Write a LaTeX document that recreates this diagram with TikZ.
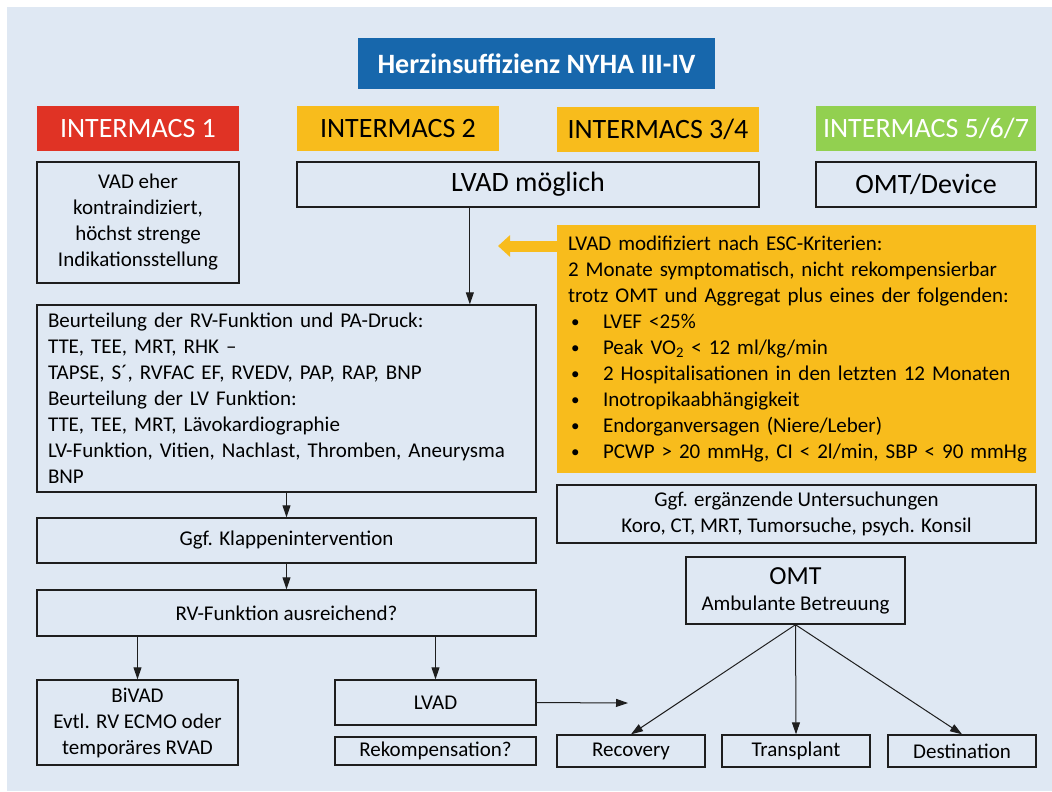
\documentclass[tikz,border=0pt]{standalone}
\usepackage{fontspec}
\setmainfont{Carlito}
\usepackage{tikz}
\usetikzlibrary{arrows.meta, calc}
\definecolor{Ink}{HTML}{1E1E1E}
\definecolor{Paper}{HTML}{DFE8F3}
\definecolor{Blue}{HTML}{1767AC}
\definecolor{Red}{HTML}{E03325}
\definecolor{Amber}{HTML}{F8BC1C}
\definecolor{Green}{HTML}{92D050}
\newcommand{\critem}{\makebox[17.5pt][l]{\hspace{1.5pt}\raisebox{0.6pt}{\fontsize{8.5}{9}\selectfont\textbullet}}}

\begin{document}
\begin{tikzpicture}[
  x=0.5pt, y=-0.5pt,
  font=\fontsize{10.5}{13}\selectfont,
  box/.style={draw=Ink, line width=0.7pt, align=center, inner sep=0pt},
  tag/.style={inner sep=0pt, minimum width=101pt, minimum height=22.5pt, font=\fontsize{14}{17}\selectfont},
  big/.style={font=\fontsize{14}{17}\selectfont},
  note/.style={box, align=left, inner xsep=5.5pt, inner ysep=0pt},
  arrow/.style={-{Triangle[length=6pt, width=4pt]}, line width=0.5pt, draw=Ink},
  bigarrow/.style={-{Triangle[length=6pt, width=10.5pt]}, line width=5.5pt, draw=Amber}
]
\useasboundingbox (0,0) rectangle (1052,791);
\fill[Paper] (7,7) rectangle (1052,791);

\node[fill=Blue, text=white, inner sep=0pt, minimum width=178.5pt, minimum height=25.5pt,
  font=\fontsize{14}{17}\selectfont\bfseries] (title) at (536.5,63.5) {Herzinsuffizienz NYHA III-IV};

\node[tag, fill=Red, text=white] (im1) at (138,128.5) {INTERMACS 1};
\node[tag, fill=Amber] (im2) at (398,128.5) {INTERMACS 2};
\node[tag, fill=Amber] (im34) at (658,129.5) {INTERMACS 3/4};
\node[tag, fill=Green, text=white, minimum width=110pt] (im567) at (926,128.5) {INTERMACS 5/6/7};

\node[box, minimum width=101pt, minimum height=60.5pt] (vad) at (138,222.5)
  {VAD eher\\kontraindiziert,\\höchst strenge\\Indikationsstellung};
\node[box, big, minimum width=231pt, minimum height=22.5pt] (lvadok) at (528,184.5) {LVAD möglich};
\node[box, big, minimum width=110pt, minimum height=22.5pt] (omtdev) at (926,184.5) {OMT/Device};

\node[fill=Amber, align=left, inner xsep=5.5pt, inner ysep=0pt, text width=228.5pt,
  minimum height=124pt] (crit) at (796.5,349) {LVAD modifiziert nach ESC-Kriterien:\\
  2 Monate symptomatisch, nicht rekompensierbar\\
  trotz OMT und Aggregat plus eines der folgenden:\\
  \critem LVEF <25\%\\
  \critem Peak VO\textsubscript{2} < 12 ml/kg/min\\
  \critem 2 Hospitalisationen in den letzten 12 Monaten\\
  \critem Inotropikaabhängigkeit\\
  \critem Endorganversagen (Niere/Leber)\\
  \mbox{\critem PCWP > 20 mmHg, CI < 2l/min, SBP < 90 mmHg}};
\node[box, minimum width=239.5pt, minimum height=29pt] (extra) at (796.5,514)
  {Ggf. ergänzende Untersuchungen\\Koro, CT, MRT, Tumorsuche, psych. Konsil};

\node[note, text width=238.5pt, minimum height=93.5pt] (rvlv) at (286.5,398.5)
  {Beurteilung der RV-Funktion und PA-Druck:\\
  TTE, TEE, MRT, RHK –\\
  TAPSE, S´, RVFAC EF, RVEDV, PAP, RAP, BNP\\
  Beurteilung der LV Funktion:\\
  TTE, TEE, MRT, Lävokardiographie\\
  LV-Funktion, Vitien, Nachlast, Thromben, Aneurysma\\
  BNP};
\node[box, minimum width=249.5pt, minimum height=22.5pt] (klappe) at (286.5,540.5) {Ggf. Klappenintervention};
\node[box, minimum width=249.5pt, minimum height=23pt] (rvok) at (286.5,613) {RV-Funktion ausreichend?};

\node[box, minimum width=100.5pt, minimum height=42.5pt] (bivad) at (137.5,722.5)
  {BiVAD\\Evtl. RV ECMO oder\\temporäres RVAD};
\node[box, minimum width=100.5pt, minimum height=22.5pt] (lvad) at (435.5,702.5) {LVAD};
\node[box, minimum width=100.5pt, minimum height=14pt] (rekomp) at (435.5,751) {Rekompensation?};

\node[box, minimum width=109.5pt, minimum height=33.5pt] (omt) at (795.5,590.5)
  {{\fontsize{13}{15}\selectfont OMT}\\Ambulante Betreuung};
\node[box, minimum width=74pt, minimum height=16pt] (recovery) at (631,751) {Recovery};
\node[box, minimum width=74pt, minimum height=16pt] (transplant) at (796,751) {Transplant};
\node[box, minimum width=74pt, minimum height=16pt] (destination) at (962,751) {Destination};

\coordinate (drop) at ($(lvadok.south west)!0.3745!(lvadok.south east)$);
\coordinate (critin) at (498,246);
\coordinate (lvadout) at (628,703);

\draw[arrow] (drop) -- (drop |- rvlv.north);
\draw[bigarrow] (crit.west |- critin) -- (critin);
\draw[arrow] (rvlv) -- (klappe);
\draw[arrow] (klappe) -- (rvok);
\draw[arrow] (rvok.south -| bivad.north) -- (bivad.north);
\draw[arrow] (rvok.south -| lvad.north) -- (lvad.north);
\draw[arrow] (lvad.east) -- (lvadout);
\draw[arrow] (omt.south) -- (recovery.north);
\draw[arrow] (omt.south) -- (transplant.north);
\draw[arrow] (omt.south) -- (destination.north);
\end{tikzpicture}
\end{document}
